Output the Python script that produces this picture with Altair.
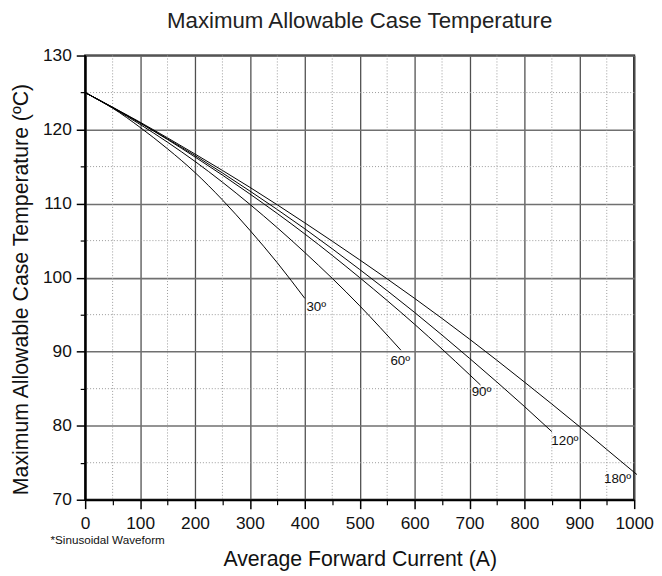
import altair as alt
import pandas as pd

# ---- data ----
angles = ["30º", "60º", "90º", "120º", "180º"]

current_30 = [0, 50, 100, 150, 200, 250, 300, 350, 400]
temp_30 = [125, 122.9, 120.3, 117.4, 114.2, 110.5, 106.4, 102.0, 97.2]

current_60 = [0, 100, 200, 300, 400, 500, 575]
temp_60 = [125, 120.7, 115.7, 109.9, 103.4, 96.2, 90.2]

current_90 = [0, 100, 200, 300, 400, 500, 600, 700, 720]
temp_90 = [125, 120.9, 116.3, 111.3, 105.9, 100.0, 93.7, 86.9, 85.5]

current_120 = [0, 100, 200, 300, 400, 500, 600, 700, 800, 850]
temp_120 = [125, 120.9, 116.5, 111.7, 106.6, 101.1, 95.3, 89.1, 82.6, 79.2]

current_180 = [0, 100, 200, 300, 400, 500, 600, 700, 800, 900, 1000, 1005]
temp_180 = [125, 121.0, 116.7, 112.2, 107.4, 102.4, 97.2, 91.7, 85.9, 79.9, 73.7, 73.4]

label_x = [403, 556, 704, 849, 945]
label_y = [96.0, 88.7, 84.5, 77.9, 72.8]

x_major = list(range(0, 1001, 100))
x_minor = list(range(50, 1000, 100))
y_major = list(range(70, 131, 10))
y_minor = list(range(75, 130, 10))

title_text = "Maximum Allowable Case Temperature"
x_title = "Average Forward Current (A)"
y_title = "Maximum Allowable Case Temperature (ºC)"
footnote = "*Sinusoidal Waveform"

# ---- build tables ----
series = [
    (angles[0], current_30, temp_30),
    (angles[1], current_60, temp_60),
    (angles[2], current_90, temp_90),
    (angles[3], current_120, temp_120),
    (angles[4], current_180, temp_180),
]
rows = []
for ang, xs, ys in series:
    for xv, yv in zip(xs, ys):
        rows.append({"angle": ang, "current": xv, "temp": yv})
lines_df = pd.DataFrame(rows)
labels_df = pd.DataFrame({"label": angles, "current": label_x, "temp": label_y})
xminor_df = pd.DataFrame({"current": x_minor})
yminor_df = pd.DataFrame({"temp": y_minor})

FONT = "Liberation Sans, Arial, Helvetica, sans-serif"

xscale = alt.Scale(domain=[0, 1000], nice=False, zero=False)
yscale = alt.Scale(domain=[70, 130], nice=False, zero=False)

minor_x_axis = alt.Axis(values=x_minor, orient="bottom", labels=False, domain=False,
                        grid=False, title=None, tickSize=5, tickColor="black",
                        tickWidth=1.2)
minor_y_axis = alt.Axis(values=y_minor, orient="left", labels=False, domain=False,
                        grid=False, title=None, tickSize=5, tickColor="black",
                        tickWidth=1.2)

major_x_axis = alt.Axis(values=x_major, orient="bottom", title=x_title, grid=True,
                        format="d",
                        gridColor="#505050", gridWidth=1.3,
                        domainColor="black", domainWidth=2,
                        tickColor="black", tickWidth=1.5, tickSize=9,
                        labelFont=FONT, labelFontSize=17.5, labelColor="#111111",
                        labelPadding=6, labelFlush=False, labelOverlap=False,
                        titleFont=FONT, titleFontSize=21.5, titleFontWeight="normal",
                        titleColor="#111111", titleBaseline="alphabetic", titleY=66)
major_y_axis = alt.Axis(values=y_major, orient="left", title=y_title, grid=True,
                        format="d",
                        gridColor="#707070", gridWidth=1.6,
                        domainColor="black", domainWidth=2,
                        tickColor="black", tickWidth=1.5, tickSize=9,
                        labelFont=FONT, labelFontSize=17.5, labelColor="#111111",
                        labelPadding=5, labelFlush=False, labelOverlap=False,
                        titleFont=FONT, titleFontSize=21.5, titleFontWeight="normal",
                        titleColor="#111111", titleBaseline="alphabetic",
                        titleX=-58.5, titleY=236, titleAngle=270)

minor_v = alt.Chart(xminor_df).mark_rule(color="#9a9a9a", strokeDash=[1, 2], strokeWidth=1).encode(
    x=alt.X("current:Q", scale=xscale, axis=minor_x_axis)
)
minor_h = alt.Chart(yminor_df).mark_rule(color="#9a9a9a", strokeDash=[1, 2], strokeWidth=1).encode(
    y=alt.Y("temp:Q", scale=yscale, axis=minor_y_axis)
)
curves = alt.Chart(lines_df).mark_line(color="black", strokeWidth=1, clip=False,
                                        interpolate="monotone").encode(
    x=alt.X("current:Q", scale=xscale, axis=major_x_axis),
    y=alt.Y("temp:Q", scale=yscale, axis=major_y_axis),
    detail="angle:N",
)
labels = alt.Chart(labels_df).mark_text(align="left", baseline="middle", font=FONT,
                                         fontSize=13.5, color="#111111").encode(
    x=alt.X("current:Q", scale=xscale, axis=None),
    y=alt.Y("temp:Q", scale=yscale, axis=None),
    text="label:N",
)
note = alt.Chart(pd.DataFrame({"t": [footnote]})).mark_text(
    align="left", baseline="alphabetic", font=FONT, fontSize=11.8, color="#111111",
    x=-35, y=494
).encode(text="t:N")

chart = alt.layer(minor_v, minor_h, curves, labels, note).resolve_axis(
    x="independent", y="independent"
).properties(
    width=555, height=449,
    title=alt.TitleParams(title_text, font=FONT, fontSize=22.5, fontWeight="normal",
                          color="#222222", anchor="middle", frame="group",
                          baseline="alphabetic", offset=20, dy=24),
    autosize=alt.AutoSizeParams(type="none"),
    padding={"left": 78, "top": 45, "right": 20, "bottom": 70},
).configure_view(stroke="black", strokeWidth=2)

chart.save("out.html", embed_options={"renderer": "svg", "actions": False})
